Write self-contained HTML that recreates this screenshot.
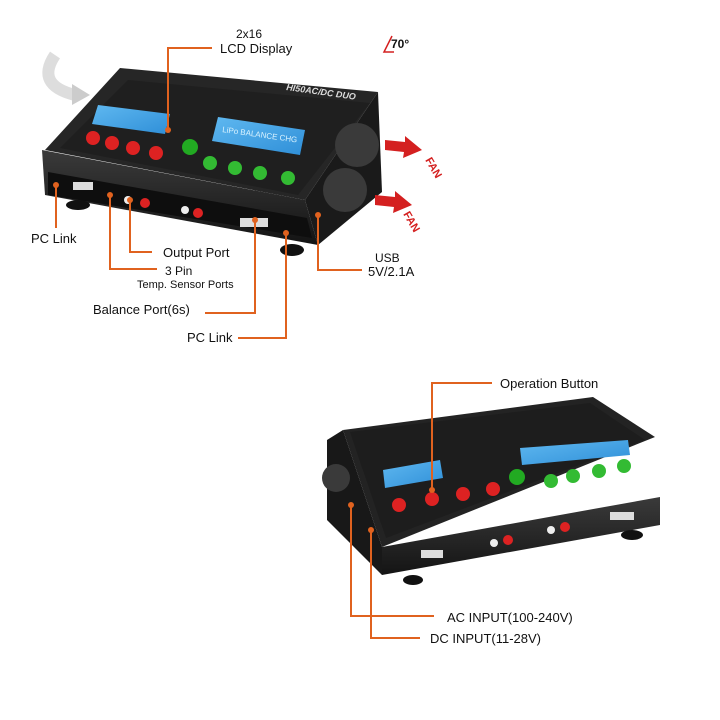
<!DOCTYPE html>
<html><head><style>
body{margin:0;background:#fff;width:720px;height:720px;overflow:hidden}
svg{display:block}
text{font-family:"Liberation Sans",sans-serif;fill:#111}
</style></head><body>
<svg width="720" height="720" viewBox="0 0 720 720">
<defs>
<linearGradient id="g1" x1="0" y1="0" x2="0" y2="1"><stop offset="0" stop-color="#3a3a3a"/><stop offset="1" stop-color="#141414"/></linearGradient>
<linearGradient id="lcd" x1="0" y1="0" x2="1" y2="1"><stop offset="0" stop-color="#5fb8f0"/><stop offset="1" stop-color="#2f8fd8"/></linearGradient>
</defs>
<!-- curved grey arrow -->
<path d="M55 55 Q35 85 75 95" stroke="#ddd" stroke-width="12" fill="none"/>
<polygon points="72,84 90,95 72,105" fill="#ccc"/>
<!-- TOP DEVICE -->
<polygon points="45,150 120,68 378,92 305,200" fill="#262626"/>
<polygon points="60,148 128,80 370,103 298,195" fill="#1f1f1f"/>
<polygon points="305,200 378,92 382,192 318,245" fill="#1a1a1a"/>
<circle cx="357" cy="145" r="22" fill="#3a3a3a"/>
<circle cx="345" cy="190" r="22" fill="#3a3a3a"/>
<polygon points="42,150 305,200 318,245 45,195" fill="url(#g1)"/>
<polygon points="48,172 307,218 312,238 48,195" fill="#0e0e0e"/>
<ellipse cx="78" cy="205" rx="12" ry="5" fill="#111"/>
<ellipse cx="292" cy="250" rx="12" ry="6" fill="#111"/>
<polygon points="98,105 170,114 165,134 92,124" fill="url(#lcd)"/>
<polygon points="218,117 305,130 300,155 212,141" fill="url(#lcd)"/>
<text x="222" y="132" font-size="8" transform="rotate(8 222 132)" style="fill:#d8f2ff">LiPo BALANCE CHG</text>
<g fill="#d22">
<circle cx="93" cy="138" r="7"/><circle cx="112" cy="143" r="7"/><circle cx="133" cy="148" r="7"/><circle cx="156" cy="153" r="7"/>
</g>
<circle cx="190" cy="147" r="8" fill="#2a2"/>
<g fill="#3b3">
<circle cx="210" cy="163" r="7"/><circle cx="235" cy="168" r="7"/><circle cx="260" cy="173" r="7"/><circle cx="288" cy="178" r="7"/>
</g>
<rect x="73" y="182" width="20" height="8" fill="#ddd"/>
<circle cx="128" cy="200" r="4" fill="#eee"/><circle cx="145" cy="203" r="5" fill="#d22"/>
<circle cx="185" cy="210" r="4" fill="#eee"/><circle cx="198" cy="213" r="5" fill="#d22"/>
<rect x="240" y="218" width="28" height="9" fill="#ddd"/>
<text x="286" y="90" font-size="9" font-weight="bold" font-style="italic" style="fill:#ddd" transform="rotate(8 286 90)">HI50AC/DC DUO</text>
<!-- fan arrows -->
<g fill="#d42020">
<polygon points="385,140 405,142 405,136 422,150 403,158 404,152 385,150"/>
<polygon points="375,195 395,197 395,191 412,205 393,213 394,207 375,205"/>
</g>
<text x="425" y="160" font-size="11" font-weight="bold" transform="rotate(60 425 160)" style="fill:#d42020">FAN</text>
<text x="403" y="214" font-size="11" font-weight="bold" transform="rotate(60 403 214)" style="fill:#d42020">FAN</text>
<path d="M392 36 L384 52 L394 52" stroke="#d42020" stroke-width="1.5" fill="none"/>
<text x="391" y="48" font-size="12" font-weight="bold">70°</text>
<!-- top callouts -->
<g stroke="#e0621f" stroke-width="2" fill="none">
<path d="M212 48 H168 V130"/>
<path d="M56 185 V228"/>
<path d="M130 200 V252 H152"/>
<path d="M110 195 V269 H157"/>
<path d="M255 220 V313 H205"/>
<path d="M286 233 V338 H238"/>
<path d="M318 215 V270 H362"/>
</g>
<g fill="#e0621f"><circle cx="168" cy="130" r="3"/><circle cx="56" cy="185" r="3"/><circle cx="130" cy="200" r="3"/><circle cx="110" cy="195" r="3"/><circle cx="255" cy="220" r="3"/><circle cx="286" cy="233" r="3"/><circle cx="318" cy="215" r="3"/></g>
<text x="236" y="38" font-size="12">2x16</text>
<text x="220" y="53" font-size="13">LCD Display</text>
<text x="31" y="243" font-size="13">PC Link</text>
<text x="163" y="257" font-size="13">Output Port</text>
<text x="165" y="275" font-size="12">3 Pin</text>
<text x="137" y="288" font-size="11">Temp. Sensor Ports</text>
<text x="93" y="314" font-size="13">Balance Port(6s)</text>
<text x="187" y="342" font-size="13">PC Link</text>
<text x="375" y="262" font-size="12">USB</text>
<text x="368" y="276" font-size="13">5V/2.1A</text>
<!-- BOTTOM DEVICE -->
<polygon points="343,430 593,397 655,437 382,547" fill="#232323"/>
<polygon points="350,432 590,403 645,440 386,538" fill="#1d1d1d"/>
<polygon points="327,440 343,430 382,547 382,575 327,520" fill="#181818"/>
<circle cx="336" cy="478" r="14" fill="#3a3a3a"/>
<polygon points="382,547 660,497 660,525 382,575" fill="url(#g1)"/>
<ellipse cx="413" cy="580" rx="10" ry="5" fill="#111"/>
<ellipse cx="632" cy="535" rx="11" ry="5" fill="#111"/>
<polygon points="383,470 440,460 443,478 385,488" fill="url(#lcd)"/>
<polygon points="520,448 628,440 630,455 522,465" fill="url(#lcd)"/>
<g fill="#d22"><circle cx="399" cy="505" r="7"/><circle cx="432" cy="499" r="7"/><circle cx="463" cy="494" r="7"/><circle cx="493" cy="489" r="7"/></g>
<circle cx="517" cy="477" r="8" fill="#2a2"/>
<g fill="#3b3"><circle cx="551" cy="481" r="7"/><circle cx="573" cy="476" r="7"/><circle cx="599" cy="471" r="7"/><circle cx="624" cy="466" r="7"/></g>
<rect x="421" y="550" width="22" height="8" fill="#ddd"/>
<circle cx="494" cy="543" r="4" fill="#eee"/><circle cx="508" cy="540" r="5" fill="#d22"/>
<circle cx="551" cy="530" r="4" fill="#eee"/><circle cx="565" cy="527" r="5" fill="#d22"/>
<rect x="610" y="512" width="24" height="8" fill="#ddd"/>
<g stroke="#e0621f" stroke-width="2" fill="none">
<path d="M492 383 H432 V490"/>
<path d="M351 505 V616 H434"/>
<path d="M371 530 V638 H420"/>
</g>
<g fill="#e0621f"><circle cx="432" cy="490" r="3"/><circle cx="351" cy="505" r="3"/><circle cx="371" cy="530" r="3"/></g>
<text x="500" y="388" font-size="13">Operation Button</text>
<text x="447" y="622" font-size="13">AC INPUT(100-240V)</text>
<text x="430" y="643" font-size="13">DC INPUT(11-28V)</text>
</svg>
</body></html>
